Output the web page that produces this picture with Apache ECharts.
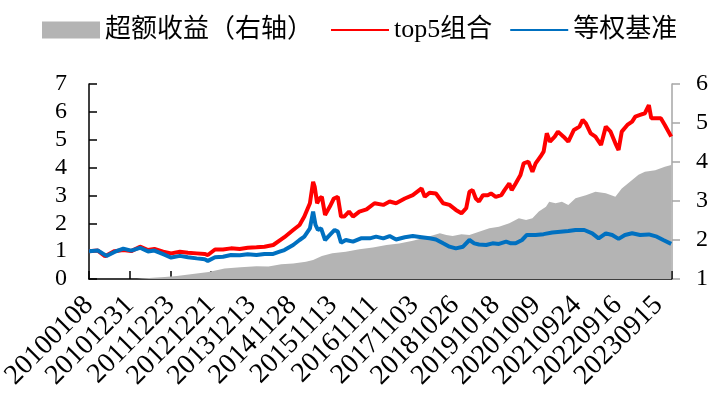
<!DOCTYPE html>
<html>
<head>
<meta charset="utf-8">
<script src="https://cdn.jsdelivr.net/npm/echarts@6/dist/echarts.min.js"></script>
<style>
  html, body { margin: 0; padding: 0; background: #fff; }
  #chart { width: 723px; height: 399px; }
</style>
</head>
<body>
<div id="chart"></div>
<script>
  // x = week index counted from 20100108, a label every 51 weeks
  var tickLabels = ['20100108', '20101231', '20111223', '20121221', '20131213', '20141128', '20151113',
    '20161111', '20171103', '20181026', '20191018', '20201009', '20210924', '20220916', '20230915']

  // 超额收益 (right axis)
  var excessWeeks = [0, 60, 66, 80, 95, 110, 130, 150, 170, 190, 210, 225, 241, 256, 272, 281, 292, 305,
    322, 339, 356, 373, 389, 406, 423, 440, 448, 456, 467, 477, 489, 502, 514, 527, 539, 548, 556, 564,
    573, 577, 585, 593, 601, 610, 623, 635, 648, 660, 668, 681, 689, 697, 710, 722, 730]
  var excessVals = [1.0, 1.0, 1.01, 1.03, 1.05, 1.08, 1.13, 1.18, 1.27, 1.30, 1.33, 1.32, 1.38, 1.40, 1.44,
    1.49, 1.59, 1.66, 1.70, 1.76, 1.81, 1.87, 1.91, 1.98, 2.07, 2.17, 2.13, 2.10, 2.15, 2.13, 2.21, 2.30,
    2.34, 2.43, 2.56, 2.51, 2.56, 2.73, 2.85, 2.98, 2.94, 2.98, 2.90, 3.07, 3.15, 3.24, 3.20, 3.11, 3.32,
    3.54, 3.67, 3.75, 3.79, 3.88, 3.92]

  // top5组合
  var top5Weeks = [0, 11, 20, 32, 43, 53, 64, 74, 82, 93, 103, 114, 124, 135, 145, 149, 158, 168, 178, 189,
    199, 210, 220, 231, 241, 245, 256, 264, 270, 277, 281, 283, 286, 289, 292, 296, 302, 307, 312, 316,
    320, 326, 331, 339, 348, 358, 369, 377, 385, 396, 406, 417, 421, 427, 435, 444, 452, 460, 467, 473,
    477, 481, 485, 489, 494, 500, 504, 510, 517, 521, 527, 530, 535, 541, 545, 551, 556, 560, 566, 570,
    574, 578, 584, 588, 595, 601, 608, 615, 619, 623, 629, 635, 642, 648, 654, 660, 664, 668, 675, 681,
    685, 691, 697, 702, 705, 711, 717, 722, 730]
  var top5Vals = [1.0, 1.02, 0.82, 1.0, 1.04, 1.0, 1.16, 1.04, 1.08, 0.98, 0.92, 0.98, 0.94, 0.92, 0.90, 0.86,
    1.06, 1.06, 1.10, 1.08, 1.12, 1.14, 1.16, 1.22, 1.42, 1.50, 1.76, 1.94, 2.24, 2.72, 3.49, 3.31, 2.72,
    2.89, 2.95, 2.30, 2.60, 2.89, 2.95, 2.24, 2.24, 2.42, 2.24, 2.42, 2.50, 2.72, 2.66, 2.78, 2.72, 2.89,
    3.01, 3.25, 2.95, 3.10, 3.07, 2.72, 2.66, 2.48, 2.36, 2.54,
    3.13, 3.19, 2.89, 2.78, 3.01, 3.01, 3.07, 2.95, 3.01, 3.19, 3.43, 3.19, 3.43, 3.73, 4.15, 4.21, 3.85,
    4.15, 4.39, 4.57, 5.23, 4.93, 5.11, 5.29, 5.11, 4.93, 5.35, 5.47, 5.71, 5.59, 5.23, 5.11, 4.81, 5.47,
    5.29, 4.87, 4.63, 5.29, 5.53, 5.65, 5.83, 5.89, 5.95, 6.24, 5.77, 5.77, 5.77, 5.53, 5.11]

  // 等权基准
  var eqWeeks = [0, 11, 22, 32, 43, 53, 64, 74, 82, 93, 103, 114, 124, 135, 145, 149, 158, 168, 178, 189,
    199, 210, 220, 231, 239, 245, 256, 264, 270, 277, 281, 284, 287, 291, 296, 302, 308, 312, 316, 322,
    331, 341, 352, 360, 369, 377, 385, 396, 406, 417, 427, 435, 444, 452, 460, 469, 477, 483, 489, 498,
    506, 514, 523, 529, 535, 543, 549, 560, 570, 581, 591, 601, 610, 621, 631, 639, 648, 656, 664, 672,
    681, 691, 702, 712, 720, 730]
  var eqVals = [1.0, 1.02, 0.83, 0.97, 1.09, 1.02, 1.12, 0.99, 1.02, 0.89, 0.77, 0.83, 0.78, 0.74, 0.71, 0.65,
    0.78, 0.80, 0.86, 0.85, 0.89, 0.86, 0.90, 0.90, 0.98, 1.04, 1.22, 1.40, 1.52, 1.82, 2.42, 1.94, 1.76,
    1.82, 1.40, 1.58, 1.76, 1.70, 1.30, 1.40, 1.34, 1.46, 1.46, 1.52, 1.46, 1.54, 1.42, 1.50, 1.54, 1.50,
    1.46, 1.42, 1.28, 1.16, 1.10, 1.16, 1.40, 1.28, 1.24, 1.22, 1.28, 1.26, 1.34, 1.28, 1.28, 1.40, 1.58,
    1.58, 1.61, 1.67, 1.70, 1.72, 1.76, 1.76, 1.64, 1.46, 1.64, 1.58, 1.44, 1.58, 1.64, 1.58, 1.60, 1.52,
    1.40, 1.26]

  function pairs(xs, ys) {
    return xs.map(function (x, i) { return [x, ys[i]] })
  }

  var font = "'Liberation Serif', 'Times New Roman', 'Noto Sans CJK SC', serif"
  var myChart = echarts.init(document.getElementById('chart'))

  var option = {
    animation: false,
    legend: {
      left: 37,
      top: 12,
      itemWidth: 58,
      itemHeight: 17,
      itemGap: 17,
      selectedMode: false,
      textStyle: { fontFamily: font, fontSize: 26, color: '#000' },
      data: [
        { name: '超额收益（右轴）', icon: 'rect' },
        { name: 'top5组合', itemStyle: { opacity: 0 } },
        { name: '等权基准', itemStyle: { opacity: 0 } }
      ]
    },
    grid: {
      left: 89,
      right: 51,
      top: 84,
      bottom: 120,
      outerBoundsMode: 'none'
    },
    xAxis: {
      type: 'value',
      min: 0,
      max: 731,
      interval: 51,
      splitLine: { show: false },
      axisLine: { lineStyle: { color: '#000', width: 1.5 } },
      axisTick: { inside: true, length: 8, lineStyle: { color: '#000', width: 1.5 } },
      axisLabel: {
        rotate: 45,
        margin: 22,
        fontFamily: font,
        fontSize: 28,
        color: '#000',
        formatter: function (val) {
          var k = Math.round(val)
          return k % 51 === 0 && tickLabels[k / 51] ? tickLabels[k / 51] : ''
        }
      }
    },
    yAxis: [
      {
        type: 'value',
        min: 0,
        max: 7,
        interval: 1,
        splitLine: { show: false },
        axisLine: { show: true, lineStyle: { color: '#000', width: 1.5 } },
        axisTick: { show: true, inside: true, length: 8, lineStyle: { color: '#000', width: 1.5 } },
        axisLabel: { margin: 22, fontFamily: font, fontSize: 24, color: '#000' }
      },
      {
        type: 'value',
        min: 1,
        max: 6,
        interval: 1,
        position: 'right',
        splitLine: { show: false },
        axisLine: { show: true, lineStyle: { color: '#a6a6a6', width: 1.5 } },
        axisTick: { show: true, length: 8, lineStyle: { color: '#a6a6a6', width: 1.5 } },
        axisLabel: { margin: 24, fontFamily: font, fontSize: 24, color: '#000' }
      }
    ],
    series: [
      {
        name: '超额收益（右轴）',
        type: 'line',
        yAxisIndex: 1,
        symbol: 'none',
        data: pairs(excessWeeks, excessVals),
        itemStyle: { color: '#b4b4b4' },
        lineStyle: { width: 0, color: '#b4b4b4' },
        areaStyle: { color: '#b4b4b4', opacity: 1 }
      },
      {
        name: 'top5组合',
        type: 'line',
        yAxisIndex: 0,
        symbol: 'none',
        data: pairs(top5Weeks, top5Vals),
        itemStyle: { color: '#ff0000' },
        lineStyle: { width: 4, color: '#ff0000' }
      },
      {
        name: '等权基准',
        type: 'line',
        yAxisIndex: 0,
        symbol: 'none',
        data: pairs(eqWeeks, eqVals),
        itemStyle: { color: '#0070c0' },
        lineStyle: { width: 4, color: '#0070c0' }
      }
    ]
  }
  myChart.setOption(option)
</script>
</body>
</html>
